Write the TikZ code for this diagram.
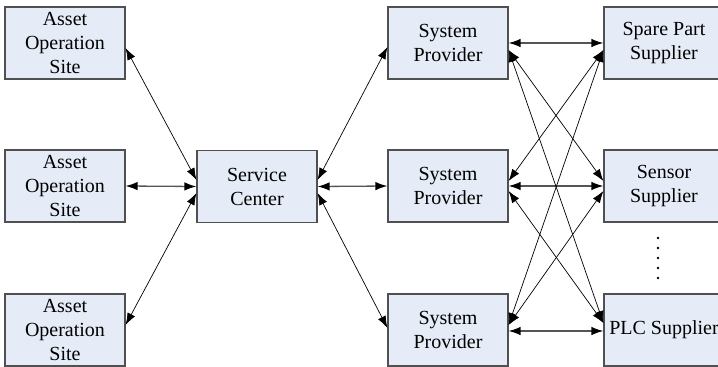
\documentclass[tikz,border=0pt]{standalone}
\usepackage{fontspec}
\setmainfont{Liberation Serif}
\usetikzlibrary{arrows.meta,calc}
\definecolor{boxfill}{RGB}{230,236,247}
\definecolor{boxline}{RGB}{80,80,80}
\definecolor{hline}{RGB}{85,85,85}
\begin{document}
\begin{tikzpicture}[x=1pt,y=-1pt,
  box/.style={draw=boxline, fill=boxfill, line width=1.2pt, minimum width=120pt,
    minimum height=72pt, inner sep=0pt, align=center,
    font=\fontsize{20}{24}\selectfont},
  tip/.tip={Latex[length=12pt,width=8.5pt,color=black]},
  harrow/.style={draw=hline, line width=1.3pt, tip-tip},
  darrow/.style={draw=black, line width=0.7pt, tip-tip}]
\useasboundingbox (0,0) rectangle (718,367);
\clip (0,0) rectangle (718,367);

% asset operation sites
\node[box] (a1) at (65,43)  {Asset\\Operation\\Site};
\node[box] (a2) at (65,186) {Asset\\Operation\\Site};
\node[box] (a3) at (65,330) {Asset\\Operation\\Site};

% service center
\node[box] (sc) at (257,186.5) {Service\\Center};

% system providers
\node[box] (p1) at (448,43)  {System\\Provider};
\node[box] (p2) at (448,186) {System\\Provider};
\node[box] (p3) at (448,330) {System\\Provider};

% suppliers
\node[box] (s1) at (664,43)  {Spare Part\\Supplier};
\node[box] (s2) at (664,186) {Sensor\\Supplier};
\node[box] (s3) at (664,330) {PLC Supplier};

% sites <-> service center
\draw[darrow] ($(a1.east)+(0,5)$) -- ($(sc.west)+(0,-6.5)$);
\draw[harrow] (a2.east) -- (sc.west);
\draw[darrow] ($(a3.east)+(0,-5)$) -- ($(sc.west)+(0,6.5)$);

% service center <-> providers
\draw[darrow] ($(sc.east)+(0,-6.5)$) -- ($(p1.west)+(0,4)$);
\draw[harrow] (sc.east) -- (p2.west);
\draw[darrow] ($(sc.east)+(0,6.5)$) -- ($(p3.west)+(0,-2)$);

% providers <-> suppliers
\draw[harrow] (p1.east) -- (s1.west);
\draw[harrow] (p2.east) -- (s2.west);
\draw[harrow] ($(p3.east)+(0,1)$) -- ($(s3.west)+(0,1)$);

\draw[darrow] ($(p1.east)+(0,7)$) -- ($(s2.west)+(0,-5)$);
\draw[darrow] ($(p1.east)+(0,7)$) -- ($(s3.west)+(0,-7)$);
\draw[darrow] ($(p2.east)+(0,-5)$) -- ($(s1.west)+(0,7)$);
\draw[darrow] ($(p2.east)+(0,5)$) -- ($(s3.west)+(0,-7)$);
\draw[darrow] ($(p3.east)+(0,-5)$) -- ($(s1.west)+(0,7)$);
\draw[darrow] ($(p3.east)+(0,-5)$) -- ($(s2.west)+(0,5)$);

% vertical ellipsis between sensor and PLC suppliers
\foreach \yy in {238,248,258,268,278}
  \fill (658,\yy) circle (1.4pt);
\end{tikzpicture}
\end{document}
